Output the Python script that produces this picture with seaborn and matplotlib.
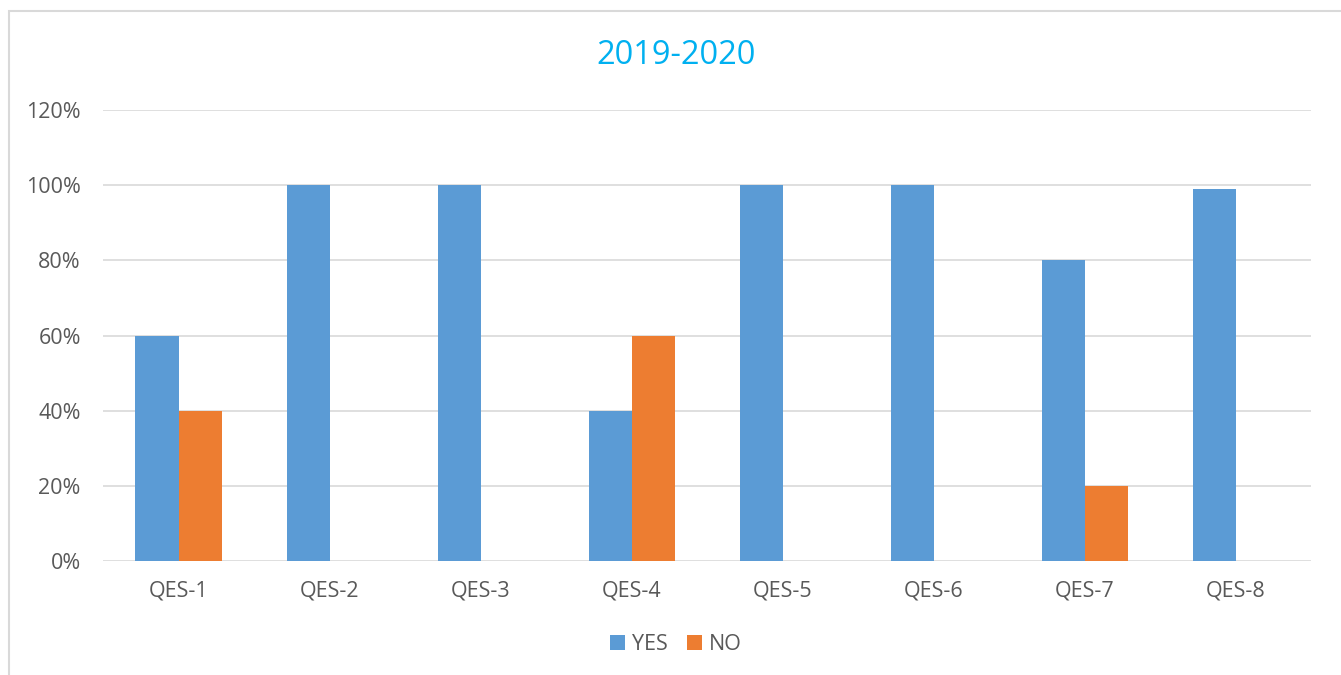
import numpy as np
import pandas as pd
import matplotlib.pyplot as plt
import seaborn as sns
from matplotlib.patches import Rectangle

questions = ['QES-1', 'QES-2', 'QES-3', 'QES-4', 'QES-5', 'QES-6', 'QES-7', 'QES-8']
yes_pct = [60, 100, 100, 40, 100, 100, 80, 99]
no_pct = [40, 0, 0, 60, 0, 0, 20, 0]
y_ticks = [0, 20, 40, 60, 80, 100, 120]

df = pd.DataFrame({
    'question': questions * 2,
    'pct': yes_pct + no_pct,
    'answer': ['YES'] * len(questions) + ['NO'] * len(questions),
})

sns.set_style('white')
plt.rcParams['font.family'] = ['Open Sans', 'DejaVu Sans']
text_col = '#595959'

fig = plt.figure(figsize=(13.41, 6.75), dpi=100)
ax = fig.add_axes([0.0768, 0.1689, 0.9012, 0.6681])

sns.barplot(data=df, x='question', y='pct', hue='answer', ax=ax,
            palette={'YES': '#5B9BD5', 'NO': '#ED7D31'},
            width=0.57, gap=0, saturation=1, linewidth=0, zorder=3)

ax.set_ylim(0, 120)
ax.set_xlim(-0.5, len(questions) - 0.5)
ax.set_yticks(y_ticks)
ax.set_yticklabels([f'{t}%' for t in y_ticks], color=text_col, fontsize=15.5)
ax.tick_params(axis='x', labelsize=15.5, labelcolor=text_col, length=0, pad=14)
ax.tick_params(axis='y', length=0, pad=16)
ax.set_xlabel('')
ax.set_ylabel('')
ax.grid(axis='y', color='#D9D9D9', linewidth=1.2, zorder=0)
for s in ax.spines.values():
    s.set_visible(False)

fig.text(676 / 1341, 1 - 55 / 675, '2019-2020', color='#00B0F0', fontsize=23.5,
         ha='center', va='center')

leg = ax.legend(loc='center', bbox_to_anchor=(0.474, -0.186), ncol=2, frameon=False,
                fontsize=15.5, handlelength=0.7, handleheight=0.7,
                handletextpad=0.3, columnspacing=0.9)
for t in leg.get_texts():
    t.set_color(text_col)

fig.patches.append(Rectangle((9 / 1341, -0.1), 1.2, 1 - 11 / 675 + 0.1,
                             transform=fig.transFigure, fill=False,
                             edgecolor='#D9D9D9', linewidth=1.5))

fig.savefig('out.png', dpi=100)
